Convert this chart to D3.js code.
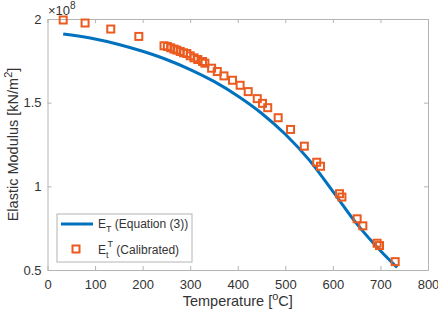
<!DOCTYPE html>
<html lang="en">
<head>
    <meta charset="UTF-8">
    <script src="https://d3js.org/d3.v7.min.js" charset="utf-8"></script>
    <title>Elastic Modulus</title>
    <style>
        body { margin: 0; background: white; }
        svg text { font-family: "Liberation Sans", Arial, sans-serif; fill: #333; }
    </style>
</head>
<body>
<div id="chart"></div>

<script>
    const width = 438;
    const height = 316;
    const margin = {top: 19, right: 10, bottom: 46, left: 47.5};

    // Equation (3) curve (x 1e8 kN/m2)
    const curveTemp = [33, 50, 100, 150, 200, 250, 300, 350, 400, 450, 500, 550, 600, 650, 700, 735];
    const curveE = [1.911, 1.904, 1.880, 1.848, 1.807, 1.758, 1.698, 1.627, 1.540, 1.437, 1.311, 1.158, 0.970, 0.777, 0.615, 0.515];

    // Calibrated points
    const calTemp = [33, 79, 133, 192, 245, 252, 259, 266, 272, 279, 286, 293, 300, 308, 316, 326, 331, 345, 357, 371,
        389, 405, 422, 441, 452, 463, 485, 511, 540, 566, 574, 614, 619, 651, 663, 693, 698, 731];
    const calE = [1.994, 1.976, 1.940, 1.896, 1.840, 1.836, 1.828, 1.820, 1.814, 1.806, 1.798, 1.794, 1.780, 1.768, 1.758, 1.746, 1.736, 1.706, 1.686, 1.660,
        1.634, 1.604, 1.566, 1.524, 1.496, 1.470, 1.410, 1.340, 1.240, 1.144, 1.120, 0.956, 0.936, 0.806, 0.764, 0.660, 0.646, 0.550];

    const xTicks = [0, 100, 200, 300, 400, 500, 600, 700, 800];
    const yTicks = [0.5, 1, 1.5, 2];

    const blue = "#0072BD";
    const orange = "#EB5A1E";
    const axisGray = "#b4b4b4";

    const svg = d3.select("#chart").append("svg")
        .attr("width", width)
        .attr("height", height);

    const x = d3.scaleLinear().domain([0, 800]).range([margin.left, width - margin.right]);
    const y = d3.scaleLinear().domain([0.5, 2]).range([height - margin.bottom, margin.top]);

    // axes, ticks pointing inward like matlab
    const styleAxis = g => {
        g.select(".domain").attr("stroke", axisGray);
        g.selectAll(".tick line").attr("stroke", axisGray);
        g.selectAll(".tick text").attr("fill", "#333").style("font-size", "13px");
    };

    svg.append("g")
        .attr("transform", `translate(0,${y(0.5)})`)
        .call(d3.axisBottom(x).tickValues(xTicks).tickSize(-4).tickSizeOuter(0).tickPadding(10))
        .call(styleAxis);
    svg.append("g")
        .attr("transform", `translate(0,${y(2)})`)
        .call(d3.axisTop(x).tickValues(xTicks).tickSize(-4).tickSizeOuter(0).tickFormat(""))
        .call(styleAxis);
    svg.append("g")
        .attr("transform", `translate(${x(0)},0)`)
        .call(d3.axisLeft(y).tickValues(yTicks).tickSize(-4).tickSizeOuter(0).tickPadding(6).tickFormat(d3.format("")))
        .call(styleAxis);
    svg.append("g")
        .attr("transform", `translate(${x(800)},0)`)
        .call(d3.axisRight(y).tickValues(yTicks).tickSize(-4).tickSizeOuter(0).tickFormat(""))
        .call(styleAxis);

    svg.selectAll(".domain").attr("fill", "none");

    // exponent label
    const expo = svg.append("text")
        .attr("x", 48)
        .attr("y", 15)
        .style("font-size", "13px");
    expo.append("tspan").text("\u00d710");
    expo.append("tspan").attr("dy", -6).style("font-size", "10px").text("8");

    // curve
    const line = d3.line()
        .x((d, i) => x(curveTemp[i]))
        .y(d => y(d))
        .curve(d3.curveMonotoneX);

    svg.append("path")
        .datum(curveE)
        .attr("d", line)
        .attr("fill", "none")
        .attr("stroke", blue)
        .attr("stroke-width", 3);

    // calibrated squares
    const ms = 7;
    svg.selectAll("rect.cal")
        .data(calE)
        .enter()
        .append("rect")
        .attr("class", "cal")
        .attr("x", (d, i) => x(calTemp[i]) - ms / 2)
        .attr("y", d => y(d) - ms / 2)
        .attr("width", ms)
        .attr("height", ms)
        .attr("fill", "none")
        .attr("stroke", orange)
        .attr("stroke-width", 2);

    // axis labels
    const xl = svg.append("text")
        .attr("x", (x(0) + x(800)) / 2)
        .attr("y", 306)
        .attr("text-anchor", "middle")
        .style("font-size", "14.5px");
    xl.append("tspan").text("Temperature [");
    xl.append("tspan").attr("dy", -6).style("font-size", "11px").text("o");
    xl.append("tspan").attr("dy", 6).text("C]");

    const yl = svg.append("text")
        .attr("transform", `translate(18,${(y(0.5) + y(2)) / 2}) rotate(-90)`)
        .attr("text-anchor", "middle")
        .style("font-size", "14.5px");
    yl.append("tspan").text("Elastic Modulus [kN/m");
    yl.append("tspan").attr("dy", -6).style("font-size", "11px").text("2");
    yl.append("tspan").attr("dy", 6).text("]");

    // legend
    const lg = svg.append("g");
    lg.append("rect")
        .attr("x", 57).attr("y", 214)
        .attr("width", 135).attr("height", 48)
        .attr("fill", "white")
        .attr("stroke", axisGray);
    lg.append("line")
        .attr("x1", 61).attr("x2", 93)
        .attr("y1", 224).attr("y2", 224)
        .attr("stroke", blue).attr("stroke-width", 3);
    const t1 = lg.append("text").attr("x", 98).attr("y", 228).style("font-size", "12px");
    t1.append("tspan").text("E");
    t1.append("tspan").attr("dy", 4).style("font-size", "9px").text("T");
    t1.append("tspan").attr("dy", -4).text(" (Equation (3))");

    lg.append("rect")
        .attr("x", 76 - ms / 2).attr("y", 249 - ms / 2)
        .attr("width", ms).attr("height", ms)
        .attr("fill", "none")
        .attr("stroke", orange).attr("stroke-width", 2);
    const t2 = lg.append("text").attr("x", 98).attr("y", 254).style("font-size", "12px");
    t2.append("tspan").text("E");
    t2.append("tspan").attr("dy", 4).style("font-size", "9px").text("t");
    t2.append("tspan").attr("dx", -1).attr("dy", -11).style("font-size", "9px").text("T");
    t2.append("tspan").attr("dy", 7).text(" (Calibrated)");
</script>
</body>
</html>
